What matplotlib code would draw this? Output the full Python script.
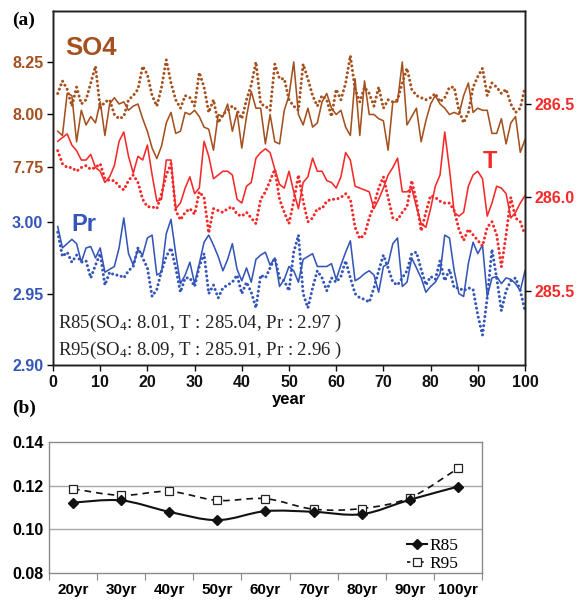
import numpy as np
import matplotlib
matplotlib.use("Agg")
import matplotlib.pyplot as plt
from matplotlib.path import Path
from matplotlib.patches import PathPatch
from matplotlib.lines import Line2D

# ---------------- data ----------------
years = np.arange(1, 101)

so4_r85 = [7.92, 7.90, 8.10, 8.09, 7.87, 8.02, 7.95, 7.99, 7.96, 8.06,
           7.90, 8.05, 8.08, 8.05, 8.06, 8.02, 8.04, 8.05, 7.98, 7.92,
           7.84, 7.79, 7.85, 7.96, 8.01, 7.91, 7.92, 8.01, 8.00, 8.02,
           7.99, 7.94, 7.93, 7.83, 8.00, 7.99, 8.05, 7.92, 8.01, 7.84,
           7.99, 8.11, 8.03, 8.03, 7.86, 8.00, 7.87, 7.86, 8.02, 8.09,
           8.25, 8.00, 7.95, 8.03, 7.94, 7.96, 8.06, 8.10, 8.03, 8.00,
           8.02, 7.94, 7.90, 8.17, 7.90, 8.16, 8.00, 8.00, 7.98, 7.97,
           7.83, 8.06, 8.06, 8.25, 7.95, 7.99, 8.03, 7.87, 7.97, 8.05,
           8.09, 8.05, 8.03, 8.00, 8.01, 8.00, 8.09, 8.15, 8.01, 8.03,
           8.02, 8.02, 7.91, 7.91, 7.98, 7.86, 7.96, 7.99, 7.82, 7.88]

so4_r95 = [8.10, 8.16, 8.12, 8.04, 8.13, 8.05, 8.07, 8.15, 8.23, 8.03,
           8.06, 8.07, 8.00, 7.98, 7.99, 8.07, 8.09, 8.12, 8.23, 8.19,
           8.09, 8.04, 8.13, 8.26, 8.15, 8.07, 8.03, 8.09, 8.08, 8.04,
           8.20, 8.13, 8.01, 8.07, 7.96, 8.00, 8.02, 8.04, 8.02, 7.98,
           8.07, 8.14, 8.25, 8.05, 8.04, 8.02, 8.24, 8.17, 8.17, 8.07,
           8.04, 8.02, 8.24, 8.17, 8.09, 8.04, 8.09, 8.07, 7.99, 8.12,
           8.07, 8.15, 8.28, 8.12, 8.06, 8.13, 8.10, 8.04, 8.13, 8.03,
           8.07, 8.06, 8.07, 8.15, 8.22, 8.12, 8.09, 8.08, 8.07, 8.08,
           8.10, 8.06, 8.08, 8.13, 8.13, 8.02, 7.96, 8.01, 8.13, 8.18,
           8.22, 8.09, 8.15, 8.13, 8.10, 8.12, 8.05, 8.01, 8.03, 8.13]

t_r85 = [286.30, 286.32, 286.34, 286.28, 286.25, 286.20, 286.20, 286.23, 286.16, 286.14,
         286.08, 286.11, 286.17, 286.30, 286.35, 286.22, 286.13, 286.22, 286.20, 286.28,
         286.12, 285.98, 285.99, 286.20, 286.20, 285.94, 285.97, 286.05, 286.11, 286.02,
         286.05, 286.30, 286.22, 286.10, 286.12, 286.14, 286.14, 286.12, 285.99, 285.97,
         286.06, 286.08, 286.21, 286.24, 286.26, 286.24, 286.15, 286.07, 286.05, 286.14,
         286.03, 285.94, 286.08, 286.11, 286.21, 286.14, 286.14, 286.09, 286.08, 286.05,
         286.11, 286.24, 286.20, 286.06, 286.05, 286.04, 286.03, 285.94, 285.99, 286.05,
         286.12, 286.16, 286.21, 286.03, 286.03, 286.05, 285.95, 285.86, 285.84, 285.94,
         286.06, 286.12, 286.35, 286.15, 285.92, 285.90, 285.92, 286.06, 286.12, 286.14,
         286.10, 285.90, 285.97, 286.06, 286.05, 286.02, 285.89, 285.92, 285.97, 286.01]

t_r95 = [286.25, 286.18, 286.16, 286.16, 286.14, 286.16, 286.17, 286.15, 286.16, 286.18,
         286.10, 286.09, 286.09, 286.06, 286.04, 286.09, 286.12, 286.08, 285.99, 285.95,
         285.95, 285.94, 286.02, 286.12, 286.18, 285.93, 285.88, 285.92, 285.94, 285.91,
         286.03, 286.00, 285.81, 285.94, 285.93, 285.92, 285.94, 285.95, 285.91, 285.90,
         285.92, 285.89, 285.86, 285.99, 286.03, 286.09, 286.15, 285.99, 285.92, 285.86,
         285.98, 286.12, 285.98, 285.87, 285.89, 285.94, 285.94, 285.98, 285.99, 285.99,
         286.00, 286.02, 285.99, 285.84, 285.78, 285.80, 285.89, 285.96, 286.05, 286.11,
         286.00, 285.89, 285.88, 285.92, 285.95, 286.09, 285.98, 285.82, 285.92, 286.01,
         286.00, 285.98, 285.97, 285.97, 285.93, 285.83, 285.77, 285.83, 285.80, 285.77,
         285.74, 285.84, 285.87, 285.80, 285.63, 285.80, 286.00, 285.89, 285.87, 285.80]

pr_r85 = [2.997, 2.982, 2.985, 2.988, 2.985, 2.972, 2.982, 2.983, 2.975, 2.982,
          2.965, 2.967, 2.969, 2.982, 3.003, 2.978, 2.970, 2.981, 2.977, 2.989,
          2.991, 2.963, 2.965, 2.992, 3.002, 2.978, 2.957, 2.963, 2.972, 2.957,
          2.971, 2.986, 2.991, 2.984, 2.976, 2.966, 2.974, 2.985, 2.967, 2.959,
          2.968, 2.958, 2.974, 2.977, 2.979, 2.970, 2.975, 2.955, 2.960, 2.969,
          2.966, 2.958, 2.974, 2.976, 2.978, 2.969, 2.969, 2.969, 2.971, 2.960,
          2.970, 2.979, 2.987, 2.959, 2.961, 2.964, 2.966, 2.963, 2.951, 2.969,
          2.971, 2.985, 2.989, 2.955, 2.958, 2.975, 2.968, 2.961, 2.951, 2.955,
          2.958, 2.964, 2.991, 2.989, 2.966, 2.950, 2.948, 2.971, 2.986, 2.978,
          2.984, 2.948, 2.961, 2.962, 2.957, 2.961, 2.960, 2.957, 2.952, 2.966]

pr_r95 = [2.993, 2.976, 2.979, 2.972, 2.977, 2.972, 2.973, 2.961, 2.970, 2.978,
          2.956, 2.965, 2.963, 2.963, 2.961, 2.966, 2.969, 2.982, 2.975, 2.968,
          2.948, 2.953, 2.966, 2.976, 2.982, 2.968, 2.951, 2.961, 2.961, 2.955,
          2.969, 2.978, 2.950, 2.956, 2.947, 2.954, 2.956, 2.958, 2.963, 2.950,
          2.958, 2.951, 2.940, 2.963, 2.961, 2.968, 2.975, 2.961, 2.959, 2.952,
          2.979, 2.991, 2.950, 2.940, 2.954, 2.966, 2.961, 2.952, 2.961, 2.958,
          2.962, 2.973, 2.961, 2.950, 2.947, 2.946, 2.944, 2.954, 2.966, 2.977,
          2.968, 2.958, 2.956, 2.961, 2.966, 2.978, 2.979, 2.967, 2.956, 2.962,
          2.960, 2.973, 2.959, 2.967, 2.954, 2.954, 2.952, 2.954, 2.953, 2.935,
          2.921, 2.947, 2.981, 2.961, 2.938, 2.952, 2.959, 2.961, 2.952, 2.938]

periods = ["20yr", "30yr", "40yr", "50yr", "60yr", "70yr", "80yr", "90yr", "100yr"]
b_r85 = [0.1122, 0.1132, 0.1080, 0.1042, 0.1083, 0.1080, 0.1069, 0.1135, 0.1195]
b_r95 = [0.1185, 0.1155, 0.1173, 0.1132, 0.1140, 0.1092, 0.1095, 0.1144, 0.1278]

r85_text = "R85(SO$_\\mathrm{4}$: 8.01, T : 285.04, Pr : 2.97 )"
r95_text = "R95(SO$_\\mathrm{4}$: 8.09, T : 285.91, Pr : 2.96 )"

# ---------------- style ----------------
BROWN = "#A5511F"
RED = "#F42A2A"
BLUE = "#3556B9"
SANS = "Liberation Sans"
SERIF = "Liberation Serif"
plt.rcParams["font.family"] = SANS
plt.rcParams["mathtext.fontset"] = "custom"
plt.rcParams["mathtext.rm"] = SERIF
plt.rcParams["mathtext.it"] = SERIF + ":italic"

fig = plt.figure(figsize=(5.83, 6.03), dpi=100)

# ---------------- panel (a) ----------------
axP = fig.add_axes([0.0909, 0.3947, 0.8096, 0.5871])
axS = axP.twinx()
axT = axP.twinx()

dot = dict(linestyle=(0, (0.01, 1.5)), linewidth=2.2, dash_capstyle="round")
solid = dict(linestyle="-", linewidth=1.15)

axP.plot(years, pr_r85, color=BLUE, **solid)
axP.plot(years, pr_r95, color=BLUE, **dot)
axS.plot(years, so4_r85, color=BROWN, **solid)
axS.plot(years, so4_r95, color=BROWN, **dot)
axT.plot(years, t_r85, color=RED, **solid)
axT.plot(years, t_r95, color=RED, **dot)

axP.set_xlim(0, 100)
axP.set_ylim(2.90, 3.148)
axS.set_ylim(6.807, 8.493)
axT.set_ylim(285.104, 286.997)

axP.set_xticks(np.arange(0, 101, 10))
axP.set_yticks([2.90, 2.95, 3.00])
axS.set_yticks([7.75, 8.00, 8.25])
axT.set_yticks([285.5, 286.0, 286.5])

axS.yaxis.set_ticks_position("left")
axS.yaxis.set_label_position("left")
axT.yaxis.set_ticks_position("right")

for ax in (axP, axS, axT):
    for s in ax.spines.values():
        s.set_linewidth(1.0)
        s.set_color("#222222")

axP.tick_params(axis="x", direction="out", length=4, width=1, pad=3,
                labelsize=11.5, colors="#111111")
axP.tick_params(axis="y", direction="out", length=4, width=1, pad=3,
                labelsize=11.5, labelcolor=BLUE)
axS.tick_params(axis="y", direction="out", length=4, width=1, pad=3,
                labelsize=11.5, labelcolor=BROWN)
axT.tick_params(axis="y", direction="out", length=4, width=1, pad=3,
                labelsize=11.5, labelcolor=RED)

axP.yaxis.set_major_formatter(matplotlib.ticker.FormatStrFormatter("%.2f"))
axS.yaxis.set_major_formatter(matplotlib.ticker.FormatStrFormatter("%.2f"))
axT.yaxis.set_major_formatter(matplotlib.ticker.FormatStrFormatter("%.1f"))

for ax in (axP, axS, axT):
    for lab in ax.get_xticklabels() + ax.get_yticklabels():
        lab.set_fontweight("bold")

axP.set_xlabel("year", fontsize=12, fontweight="bold", labelpad=2)

axP.text(0.025, 0.895, "SO4", transform=axP.transAxes, color=BROWN,
         fontsize=18.5, fontweight="bold", va="center", ha="left")
axP.text(0.926, 0.576, "T", transform=axP.transAxes, color=RED,
         fontsize=17, fontweight="bold", va="center", ha="center")
axP.text(0.040, 0.398, "Pr", transform=axP.transAxes, color=BLUE,
         fontsize=17, fontweight="bold", va="center", ha="left")

axP.text(0.010, 0.118, r85_text, transform=axP.transAxes, family=SERIF,
         fontsize=13.5, va="center", ha="left", color="#222222")
axP.text(0.010, 0.042, r95_text, transform=axP.transAxes, family=SERIF,
         fontsize=13.5, va="center", ha="left", color="#222222")

fig.text(0.020, 0.967, "(a)", family=SERIF, fontsize=14, fontweight="bold",
         va="center", ha="left")
fig.text(0.020, 0.323, "(b)", family=SERIF, fontsize=14, fontweight="bold",
         va="center", ha="left")

# ---------------- panel (b) ----------------
axB = fig.add_axes([0.0840, 0.0495, 0.7427, 0.2180])
xb = np.arange(len(periods))


def smooth_path(x, y):
    pts = np.column_stack([x, y]).astype(float)
    n = len(pts)
    verts = [pts[0]]
    codes = [Path.MOVETO]
    for i in range(n - 1):
        p0 = pts[i - 1] if i > 0 else pts[i]
        p1 = pts[i]
        p2 = pts[i + 1]
        p3 = pts[i + 2] if i + 2 < n else pts[i + 1]
        c1 = p1 + (p2 - p0) / 6.0
        c2 = p2 - (p3 - p1) / 6.0
        verts += [c1, c2, p2]
        codes += [Path.CURVE4] * 3
    return Path(verts, codes)


axB.add_patch(PathPatch(smooth_path(xb, b_r95), fill=False, edgecolor="#111111",
                        linewidth=1.2, linestyle=(0, (4, 3)), zorder=3))
axB.add_patch(PathPatch(smooth_path(xb, b_r85), fill=False, edgecolor="#111111",
                        linewidth=1.5, zorder=4))
axB.plot(xb, b_r95, linestyle="none", marker="s", markersize=6,
         markerfacecolor="white", markeredgecolor="#222222",
         markeredgewidth=0.9, zorder=5)
axB.plot(xb, b_r85, linestyle="none", marker="D", markersize=5,
         color="#111111", zorder=6)

axB.set_xlim(-0.5, len(periods) - 0.5)
axB.set_ylim(0.08, 0.14)
axB.set_yticks([0.08, 0.10, 0.12, 0.14])
axB.yaxis.set_major_formatter(matplotlib.ticker.FormatStrFormatter("%.2f"))
axB.set_xticks(xb)
axB.set_xticklabels(periods)
axB.set_xticks(np.arange(-0.5, len(periods), 1.0), minor=True)
axB.tick_params(axis="x", which="major", length=0, pad=7, labelsize=11)
axB.tick_params(axis="x", which="minor", length=5, width=0.8, color="#888888",
                direction="out")
axB.tick_params(axis="y", length=0, pad=4, labelsize=11.5)
for lab in axB.get_xticklabels() + axB.get_yticklabels():
    lab.set_fontweight("bold")
for s in axB.spines.values():
    s.set_color("#8a8a8a")
    s.set_linewidth(1.0)
for yv in (0.10, 0.12):
    axB.axhline(yv, color="#a8a8a8", linewidth=1.0, zorder=1)

h85 = Line2D([], [], color="#111111", linewidth=1.5, marker="D", markersize=5)
h95 = Line2D([], [], color="#111111", linewidth=1.2, linestyle=(0, (2, 2)),
             marker="s", markersize=6, markerfacecolor="white",
             markeredgecolor="#222222", markeredgewidth=0.9)
leg = axB.legend([h85, h95], ["R85", "R95"], loc="lower left",
                 bbox_to_anchor=(0.798, -0.085), frameon=False,
                 prop={"family": SERIF, "size": 12.5}, handlelength=1.2,
                 handletextpad=0.1, labelspacing=0.1, borderpad=0.2)

fig.savefig("out.png", dpi=100)
